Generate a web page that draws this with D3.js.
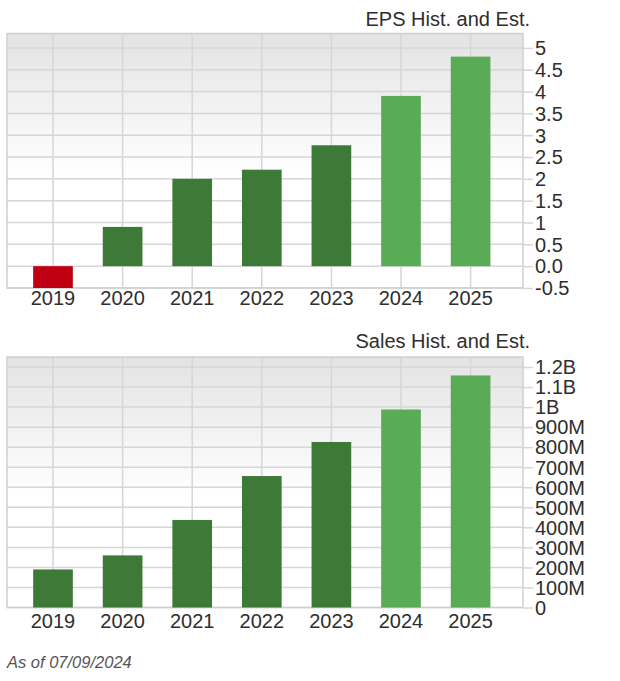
<!DOCTYPE html>
<html>
<head>
<meta charset="utf-8">
<script src="https://cdn.jsdelivr.net/npm/d3@7"></script>
<style>
  html, body { margin: 0; padding: 0; background: #ffffff; }
  svg { display: block; }
  text { font-family: "Liberation Sans", Arial, Helvetica, sans-serif; }
</style>
</head>
<body>
<svg id="chart" width="620" height="681"></svg>
<script>
// ---- data ----
const years = ["2019", "2020", "2021", "2022", "2023", "2024", "2025"];
const estimateYears = ["2024", "2025"];
const epsValues = [-0.5, 0.90, 2.0, 2.21, 2.77, 3.90, 4.80];
const salesValues = [190e6, 260e6, 437e6, 656e6, 826e6, 988e6, 1158e6];
const epsTicks = [-0.5, 0, 0.5, 1, 1.5, 2, 2.5, 3, 3.5, 4, 4.5, 5];
const epsTickLabels = ["-0.5", "0.0", "0.5", "1", "1.5", "2", "2.5", "3", "3.5", "4", "4.5", "5"];
const salesTicks = [0, 100e6, 200e6, 300e6, 400e6, 500e6, 600e6, 700e6, 800e6, 900e6, 1000e6, 1100e6, 1200e6];
const salesTickLabels = ["0", "100M", "200M", "300M", "400M", "500M", "600M", "700M", "800M", "900M", "1B", "1.1B", "1.2B"];
const epsTitle = "EPS Hist. and Est.";
const salesTitle = "Sales Hist. and Est.";
const footerText = "As of 07/09/2024";

// ---- styling ----
const colNegative = "#c00012";
const colHist = "#3e7a37";
const colEst = "#5aab55";
const gridCol = "#d6d6d6";
const textCol = "#2e2e2e";

const svg = d3.select("#chart");
const defs = svg.append("defs");
const grad = defs.append("linearGradient")
  .attr("id", "bgGrad").attr("x1", 0).attr("y1", 0).attr("x2", 0).attr("y2", 1);
grad.append("stop").attr("offset", "0%").attr("stop-color", "#e3e3e3");
grad.append("stop").attr("offset", "55%").attr("stop-color", "#ffffff");
grad.append("stop").attr("offset", "100%").attr("stop-color", "#ffffff");

function drawPanel(opts) {
  const left = 7, right = 523;
  const g = svg.append("g");

  const x = d3.scaleBand()
    .domain(years)
    .range([18.2, 505.4])
    .paddingInner(0.43)
    .paddingOuter(0.215);

  const y = d3.scaleLinear()
    .domain(opts.domain)
    .range([opts.bottom, opts.top]);

  // background
  g.append("rect")
    .attr("x", left).attr("y", opts.top)
    .attr("width", right - left).attr("height", opts.bottom - opts.top)
    .attr("fill", "url(#bgGrad)");

  // horizontal grid
  g.append("g").selectAll("line")
    .data(opts.ticks)
    .join("line")
    .attr("x1", left).attr("x2", right)
    .attr("y1", d => y(d)).attr("y2", d => y(d))
    .attr("stroke", gridCol).attr("stroke-width", 1.5);

  // vertical grid at category centers
  g.append("g").selectAll("line")
    .data(years)
    .join("line")
    .attr("x1", d => x(d) + x.bandwidth() / 2)
    .attr("x2", d => x(d) + x.bandwidth() / 2)
    .attr("y1", opts.top).attr("y2", opts.bottom)
    .attr("stroke", gridCol).attr("stroke-width", 1.5);

  // border
  g.append("rect")
    .attr("x", left).attr("y", opts.top)
    .attr("width", right - left).attr("height", opts.bottom - opts.top)
    .attr("fill", "none").attr("stroke", "#cfcfcf").attr("stroke-width", 1.5);

  // bars
  g.append("g").selectAll("rect")
    .data(years.map((yr, i) => ({ yr, v: opts.values[i] })))
    .join("rect")
    .attr("x", d => x(d.yr))
    .attr("width", x.bandwidth())
    .attr("y", d => y(Math.max(0, d.v)))
    .attr("height", d => Math.abs(y(d.v) - y(0)))
    .attr("fill", d => d.v < 0 ? colNegative : (estimateYears.includes(d.yr) ? colEst : colHist));

  // right axis
  const yAxis = d3.axisRight(y)
    .tickValues(opts.ticks)
    .tickFormat((d, i) => opts.tickLabels[i])
    .tickSize(10)
    .tickPadding(2);
  const ya = g.append("g").attr("transform", `translate(${right},0)`).call(yAxis);
  ya.select(".domain").remove();
  ya.selectAll(".tick line").attr("stroke", gridCol).attr("stroke-width", 1.5);
  ya.selectAll(".tick text")
    .attr("fill", textCol).attr("font-size", 20)
    .attr("font-family", "'Liberation Sans', Arial, sans-serif")
    .attr("dy", "0.34em");

  // bottom axis (labels only)
  const xAxis = d3.axisBottom(x).tickSize(0).tickPadding(0);
  const xa = g.append("g").attr("transform", `translate(0,${opts.bottom})`).call(xAxis);
  xa.select(".domain").remove();
  xa.selectAll(".tick text")
    .attr("fill", textCol).attr("font-size", 20)
    .attr("font-family", "'Liberation Sans', Arial, sans-serif")
    .attr("dy", null).attr("y", opts.labelOffset);

  // title
  g.append("text")
    .attr("x", 530).attr("y", opts.titleY)
    .attr("text-anchor", "end")
    .attr("fill", textCol).attr("font-size", 20)
    .text(opts.title);
}

drawPanel({
  title: epsTitle, titleY: 26,
  values: epsValues, ticks: epsTicks, tickLabels: epsTickLabels,
  domain: [-0.5, 5.33], top: 33.5, bottom: 288, labelOffset: 17
});

drawPanel({
  title: salesTitle, titleY: 348,
  values: salesValues, ticks: salesTicks, tickLabels: salesTickLabels,
  domain: [0, 1.25e9], top: 357, bottom: 607.5, labelOffset: 20.5
});

svg.append("text")
  .attr("x", 7).attr("y", 668)
  .attr("font-style", "italic")
  .attr("font-size", 16.5)
  .attr("fill", "#555555")
  .text(footerText);
</script>
</body>
</html>
